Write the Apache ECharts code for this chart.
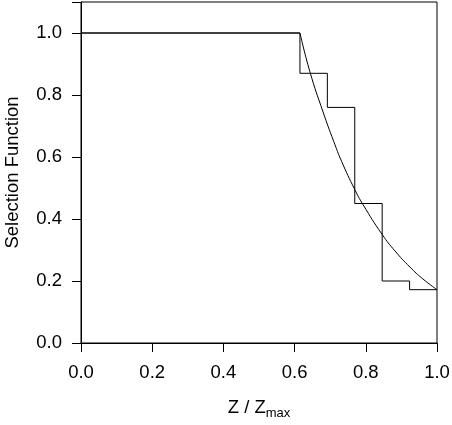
<!DOCTYPE html>
<html>
<head>
<meta charset="utf-8">
<script src="https://cdn.jsdelivr.net/npm/echarts@6/dist/echarts.min.js"></script>
<style>
  html, body { margin: 0; padding: 0; background: #fff; }
  #chart { width: 452px; height: 425px; }
</style>
</head>
<body>
<div id="chart"></div>
<script>
// step edges (Z/Zmax) and the binned selection value in each bin
const stepEdges = [0, 0.615, 0.692, 0.769, 0.846, 0.923, 1.0]
const stepValues = [1.0, 0.87, 0.76, 0.45, 0.20, 0.172]

// smooth model curve
const curveX = [0, 0.615, 0.643, 0.68, 0.71, 0.732, 0.769, 0.792, 0.846, 0.882, 0.924, 0.96, 1.0]
const curveY = [1.0, 1.0, 0.875, 0.745, 0.65, 0.586, 0.495, 0.447, 0.35, 0.297, 0.245, 0.207, 0.172]

const xTicks = [0, 0.2, 0.4, 0.6, 0.8, 1.0]
const yTicks = [0, 0.2, 0.4, 0.6, 0.8, 1.0]

let stepData = stepValues.map((v, i) => [stepEdges[i], v])
stepData.push([stepEdges[stepEdges.length - 1], stepValues[stepValues.length - 1]])

// the flat part is drawn straight, only the falling part smooth
let flatData = curveX.slice(0, 2).map((x, i) => [x, curveY[i]])
let curveData = curveX.slice(1).map((x, i) => [x, curveY[i + 1]])

const font = '"Liberation Sans", Arial, Helvetica, sans-serif'

let mychart = echarts.init(document.getElementById('chart'))
let option = {
  animation: false,
  grid: {
    left: 81, right: 15, top: 2, bottom: 82,
    containLabel: false, outerBoundsMode: 'none',
    show: true, borderColor: '#000', borderWidth: 1
  },
  xAxis: {
    type: 'value',
    min: 0, max: 1, interval: 0.2,
    name: 'Z / Z{sub|max}',
    nameLocation: 'middle',
    nameGap: 52,
    nameTextStyle: {
      fontFamily: font, fontSize: 18.5, color: '#000',
      rich: { sub: { fontFamily: font, fontSize: 13, color: '#000', padding: [12, 0, 0, 0] } }
    },
    axisLine: { show: true, onZero: false, lineStyle: { color: '#000' } },
    axisTick: { show: true, length: 9, lineStyle: { color: '#000' } },
    splitLine: { show: false },
    axisLabel: {
      fontFamily: font, fontSize: 18.5, color: '#000', margin: 20,
      formatter: v => xTicks.includes(+v.toFixed(1)) ? v.toFixed(1) : ''
    }
  },
  yAxis: {
    type: 'value',
    min: 0, max: 1.1, interval: 0.2,
    name: 'Selection Function',
    nameLocation: 'middle',
    nameGap: 59,
    nameTextStyle: { fontFamily: font, fontSize: 18.5, color: '#000' },
    axisLine: { show: true, onZero: false, lineStyle: { color: '#000' } },
    axisTick: { show: true, length: 9, lineStyle: { color: '#000' } },
    splitLine: { show: false },
    axisLabel: {
      fontFamily: font, fontSize: 18.5, color: '#000', margin: 19,
      formatter: v => yTicks.includes(+v.toFixed(1)) ? v.toFixed(1) : ''
    }
  },
  series: [
    {
      type: 'line', step: 'end', data: stepData,
      showSymbol: false, lineStyle: { color: '#000', width: 1 }
    },
    {
      type: 'line', data: flatData,
      showSymbol: false, lineStyle: { color: '#000', width: 1 }
    },
    {
      type: 'line', data: curveData, smooth: 0.5,
      showSymbol: false, lineStyle: { color: '#000', width: 1 }
    }
  ]
}
mychart.setOption(option)
</script>
</body>
</html>
